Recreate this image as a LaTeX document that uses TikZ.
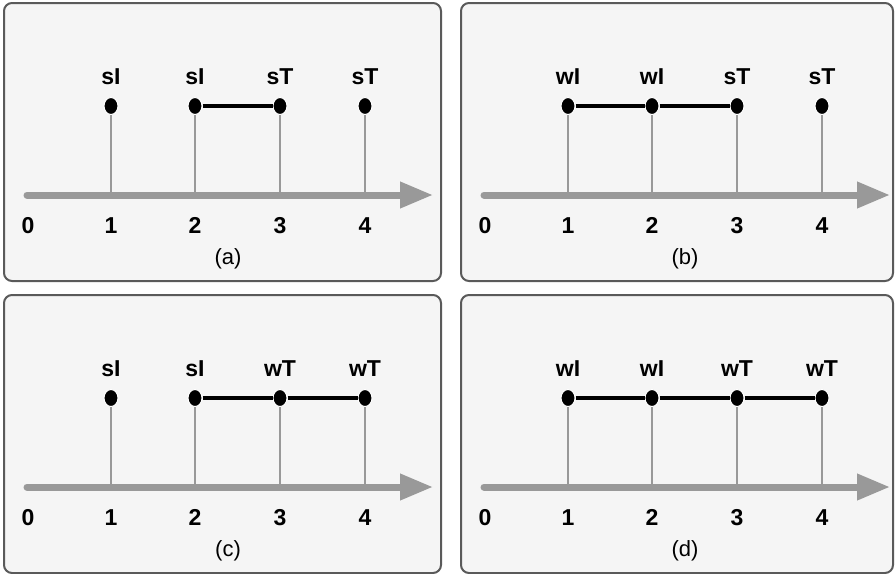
\documentclass[tikz,border=0pt]{standalone}
\usepackage{fontspec}
\setmainfont{Liberation Sans}
\usetikzlibrary{arrows.meta,shapes.geometric}
\definecolor{panelfill}{HTML}{F5F5F5}
\definecolor{panelborder}{HTML}{5A5A5A}
\definecolor{axisgray}{HTML}{999999}
\tikzset{
  panel/.style={draw=panelborder, fill=panelfill, line width=2pt, rounded corners=8pt},
  axisline/.style={draw=axisgray, line width=7pt, line cap=round,
    -{Triangle[length=33pt,width=25pt]}},
  tickline/.style={draw=axisgray, line width=1.5pt},
  dot/.style={ellipse, fill=black, draw=white, line width=1pt,
    minimum width=14pt, minimum height=17pt, inner sep=0pt},
  link/.style={draw=black, line width=4.5pt},
  lbl/.style={font=\fontsize{23}{26}\selectfont\bfseries, inner sep=0pt,
    text height=16.5pt, text depth=0pt},
  captext/.style={font=\fontsize{22}{26}\selectfont, inner sep=0pt},
}
\newcommand{\mypanel}[9]{%
  % #1 prefix, #2 ox, #3 oy, #4 caption, #5-#8 labels, #9 panel right edge
  \begin{scope}[shift={(#2,#3)}]
    \path[panel] (4,3) rectangle (#9,281);
    \coordinate (#1s) at (27,195);
    \coordinate (#1e) at (433,195);
    \node[lbl] (#1n0) at (28,225) {0};
    \foreach \i/\x/\t in {1/111/#5,2/195/#6,3/280/#7,4/365/#8}{
      \coordinate (#1b\i) at (\x,195);
      \node[dot] (#1d\i) at (\x,106) {};
      \node[lbl] (#1l\i) at (\x,76) {\t};
      \node[lbl] (#1n\i) at (\x,225) {\i};
    }
    \node[captext] (#1c) at (228,259) {(#4)};
  \end{scope}
  \draw[axisline] (#1s) -- (#1e);
  \foreach \i in {1,...,4}{\draw[tickline] (#1d\i.south) -- (#1b\i);}
}
\begin{document}
\begin{tikzpicture}[x=1pt,y=-1pt]
  \useasboundingbox (0,0) rectangle (896,573);
  \mypanel{a}{0}{0}{a}{sI}{sI}{sT}{sT}{441}
  \mypanel{b}{457}{0}{b}{wI}{wI}{sT}{sT}{436}
  \mypanel{c}{0}{292}{c}{sI}{sI}{wT}{wT}{441}
  \mypanel{d}{457}{292}{d}{wI}{wI}{wT}{wT}{436}
  \draw[link] (ad2) -- (ad3);
  \draw[link] (bd1) -- (bd2);
  \draw[link] (bd2) -- (bd3);
  \draw[link] (cd2) -- (cd3);
  \draw[link] (cd3) -- (cd4);
  \draw[link] (dd1) -- (dd2);
  \draw[link] (dd2) -- (dd3);
  \draw[link] (dd3) -- (dd4);
\end{tikzpicture}
\end{document}
